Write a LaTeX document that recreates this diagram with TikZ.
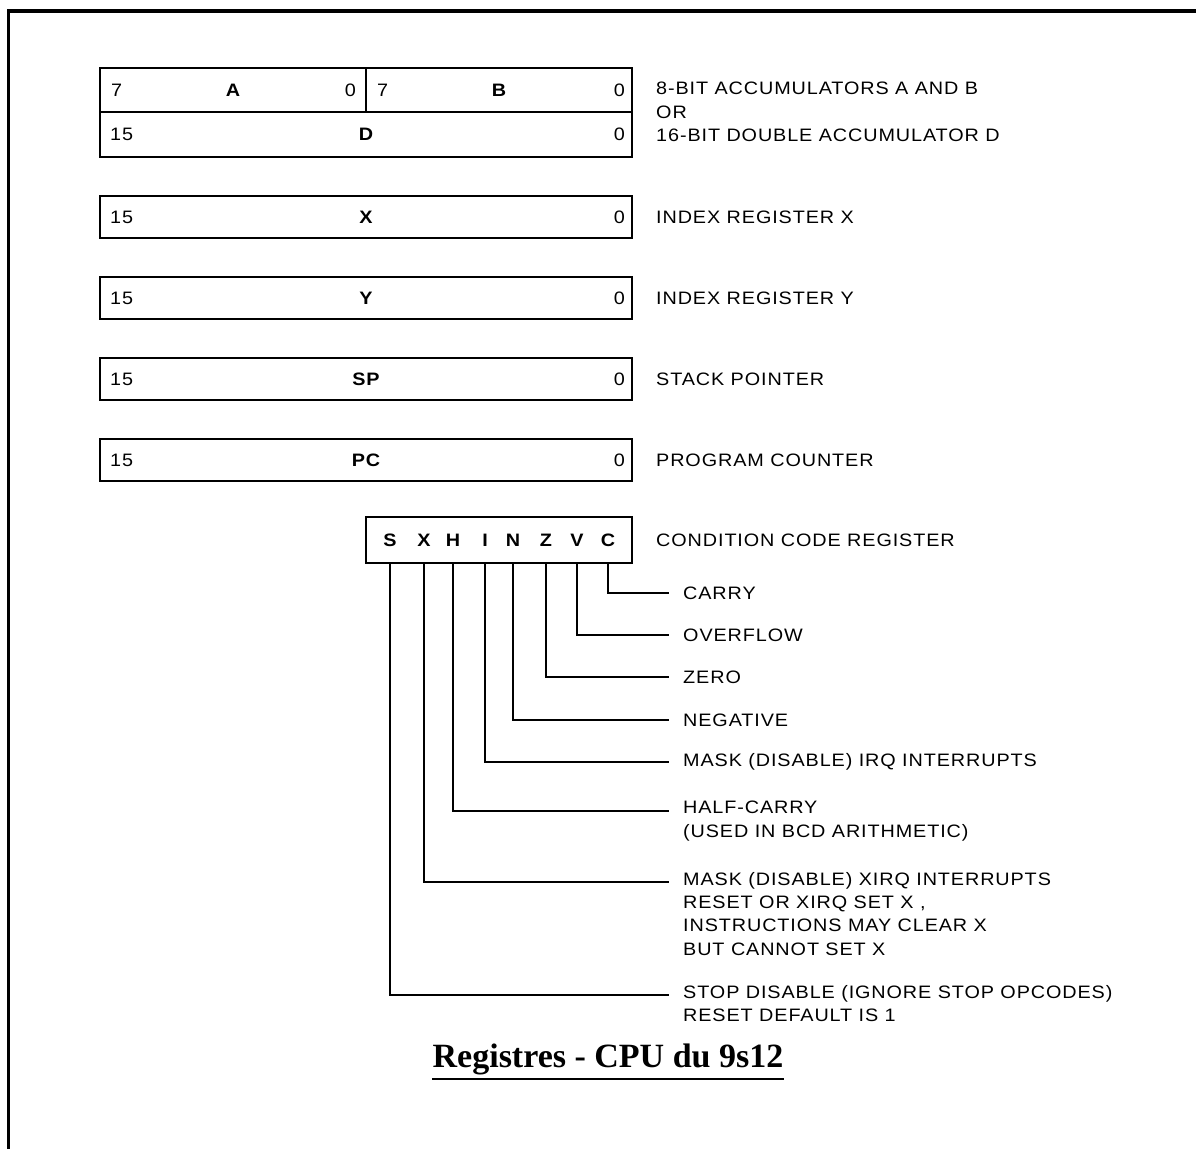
\documentclass[tikz,border=0pt]{standalone}
\usepackage{fontspec}
\setmainfont{Liberation Serif}
\newfontfamily\labelfont[FakeStretch=1.1,LetterSpace=5]{Liberation Sans}
\usetikzlibrary{positioning}

\begin{document}
\begin{tikzpicture}[
    x=1pt, y=-1pt,
    node distance=39pt,
    reg/.style={draw, line width=2.2pt, outer sep=0pt, inner sep=0pt, minimum width=532pt, minimum height=42pt, font=\labelfont\fontsize{18}{20}\selectfont\bfseries},
    half/.style={reg, minimum width=266pt, minimum height=44pt},
    bitno/.style={inner sep=0pt, font=\labelfont\fontsize{18}{20}\selectfont},
    desc/.style={inner sep=0pt, align=left, font=\labelfont\fontsize{18}{23.3}\selectfont},
    flag/.style={inner sep=0pt, font=\labelfont\fontsize{18}{20}\selectfont\bfseries},
    wire/.style={line width=2.6pt},
    frame/.style={line width=3.5pt}
  ]
  \useasboundingbox (0,0) rectangle (1196,1148);
  \draw[frame] (8.5,1150) -- (8.5,11) -- (1198,11);

  % accumulators
  \node[half] (regA) at (233,90) {A};
  \node[half, right=0pt of regA] (regB) {B};
  \node[reg, minimum height=45pt, below=0pt of regA.south east] (regD) {D};
  \node[bitno, anchor=west] (hiA) at ([xshift=11pt]regA.west) {7};
  \node[bitno, anchor=east] (loA) at ([xshift=-10pt]regA.east) {0};
  \node[bitno, anchor=west] (hiB) at ([xshift=11pt]regB.west) {7};
  \node[bitno, anchor=east] (loB) at ([xshift=-7pt]regB.east) {0};
  \node[bitno, anchor=west] (hiD) at ([xshift=10pt]regD.west) {15};
  \node[bitno, anchor=east] (loD) at ([xshift=-7pt]regD.east) {0};
  \node[desc, right=24pt of regD.north east] (dAB) {8-BIT ACCUMULATORS A AND B\\OR\\16-BIT DOUBLE ACCUMULATOR D};

  % 16-bit registers
  \node[reg, below=39pt of regD] (regX) {X};
  \node[bitno, anchor=west] (hiX) at ([xshift=10pt]regX.west) {15};
  \node[bitno, anchor=east] (loX) at ([xshift=-7pt]regX.east) {0};
  \node[desc, right=24pt of regX] (dX) {INDEX REGISTER X};

  \node[reg, below=39pt of regX] (regY) {Y};
  \node[bitno, anchor=west] (hiY) at ([xshift=10pt]regY.west) {15};
  \node[bitno, anchor=east] (loY) at ([xshift=-7pt]regY.east) {0};
  \node[desc, right=24pt of regY] (dY) {INDEX REGISTER Y};

  \node[reg, below=39pt of regY] (regSP) {SP};
  \node[bitno, anchor=west] (hiSP) at ([xshift=10pt]regSP.west) {15};
  \node[bitno, anchor=east] (loSP) at ([xshift=-7pt]regSP.east) {0};
  \node[desc, right=24pt of regSP] (dSP) {STACK POINTER};

  \node[reg, below=39pt of regSP] (regPC) {PC};
  \node[bitno, anchor=west] (hiPC) at ([xshift=10pt]regPC.west) {15};
  \node[bitno, anchor=east] (loPC) at ([xshift=-7pt]regPC.east) {0};
  \node[desc, right=24pt of regPC] (dPC) {PROGRAM COUNTER};

  % condition codes
  \node[reg, minimum width=266pt, minimum height=46pt, below=36pt of regPC.south east, anchor=north east] (ccr) {};
  \node[desc, right=24pt of ccr] (dCCR) {CONDITION CODE REGISTER};
  \foreach \f/\xf in {S/390, X/424, H/453, I/485, N/513, Z/546, V/577, C/608}
    \node[flag] (flag\f) at (\xf,540) {\f};

  \node[desc, anchor=west] (fC) at (683,593) {CARRY};
  \node[desc, anchor=west] (fV) at (683,635) {OVERFLOW};
  \node[desc, anchor=west] (fZ) at (683,677) {ZERO};
  \node[desc, anchor=west] (fN) at (683,720) {NEGATIVE};
  \node[desc, anchor=west] (fI) at (683,762) {MASK (DISABLE) IRQ INTERRUPTS};
  \node[desc, anchor=north west] (fH) at (683,801) {HALF-CARRY\\(USED IN BCD ARITHMETIC)};
  \node[desc, anchor=north west] (fX) at (683,872) {MASK (DISABLE) XIRQ INTERRUPTS\\RESET OR XIRQ SET X ,\\INSTRUCTIONS MAY CLEAR X\\BUT CANNOT SET X};
  \node[desc, anchor=north west] (fS) at (683,985) {STOP DISABLE (IGNORE STOP OPCODES)\\RESET DEFAULT IS 1};

  \draw[wire] (flagC |- ccr.south) |- ([xshift=-14pt]fC.west);
  \draw[wire] (flagV |- ccr.south) |- ([xshift=-14pt]fV.west);
  \draw[wire] (flagZ |- ccr.south) |- ([xshift=-14pt]fZ.west);
  \draw[wire] (flagN |- ccr.south) |- ([xshift=-14pt]fN.west);
  \draw[wire] (flagI |- ccr.south) |- ([xshift=-14pt]fI.west);
  \draw[wire] (flagH |- ccr.south) |- ([xshift=-14pt,yshift=-10pt]fH.north west);
  \draw[wire] (flagX |- ccr.south) |- ([xshift=-14pt,yshift=-10pt]fX.north west);
  \draw[wire] (flagS |- ccr.south) |- ([xshift=-14pt,yshift=-10pt]fS.north west);

  % title
  \node[inner sep=0pt, anchor=base, font=\fontsize{34}{40}\selectfont\bfseries] (title) at (608,1067) {Registres - CPU du 9s12};
  \draw[line width=2pt] ([yshift=-12pt]title.base west) -- ([yshift=-12pt]title.base east);
\end{tikzpicture}
\end{document}
